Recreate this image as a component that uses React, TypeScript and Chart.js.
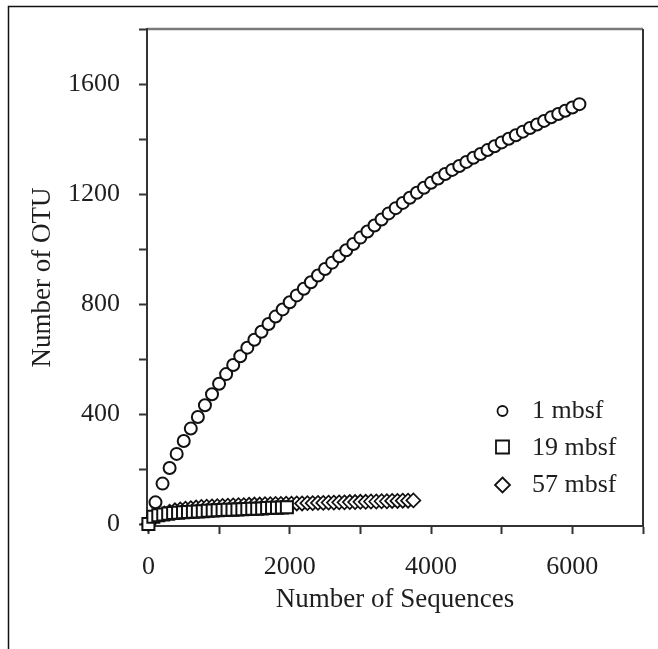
import React, { useEffect, useRef } from 'react';
import { Chart, registerables } from 'chart.js';

Chart.register(...registerables);

const FONT = "'Liberation Serif', 'Times New Roman', serif";
const TEXT = '#1e1e1e';

const seriesLabels = ['1 mbsf', '19 mbsf', '57 mbsf'];

const xTickValues = [0, 1000, 2000, 3000, 4000, 5000, 6000, 7000];
const xTickLabels = ['0', '', '2000', '', '4000', '', '6000', ''];
const yTickValues = [0, 200, 400, 600, 800, 1000, 1200, 1400, 1600, 1800];
const yTickLabels = ['0', '', '400', '', '800', '', '1200', '', '1600', ''];

const seqs1 = [
  100, 200, 300, 400, 500, 600, 700, 800, 900, 1000,
  1100, 1200, 1300, 1400, 1500, 1600, 1700, 1800, 1900, 2000,
  2100, 2200, 2300, 2400, 2500, 2600, 2700, 2800, 2900, 3000,
  3100, 3200, 3300, 3400, 3500, 3600, 3700, 3800, 3900, 4000,
  4100, 4200, 4300, 4400, 4500, 4600, 4700, 4800, 4900, 5000,
  5100, 5200, 5300, 5400, 5500, 5600, 5700, 5800, 5900, 6000, 6100,
];
const otu1 = [
  80, 148, 205, 256, 303, 348, 390, 433, 473, 511,
  546, 579, 611, 642, 671, 700, 728, 755, 781, 807,
  832, 856, 880, 904, 928, 951, 974, 996, 1019, 1042,
  1064, 1086, 1108, 1130, 1149, 1168, 1187, 1205, 1223, 1241,
  1257, 1273, 1288, 1302, 1317, 1332, 1346, 1360, 1374, 1388,
  1401, 1414, 1427, 1440, 1453, 1466, 1479, 1491, 1503, 1515, 1527,
];

const seqs19 = [
  0, 70, 140, 210, 280, 350, 420, 490, 560, 630,
  700, 770, 840, 910, 980, 1050, 1120, 1190, 1260, 1330,
  1400, 1470, 1540, 1610, 1680, 1750, 1820, 1890, 1960,
];
const otu19 = [
  1, 28, 33, 36, 39, 41, 42, 44, 45, 46,
  47, 48, 49, 50, 51, 52, 53, 53, 54, 55,
  56, 57, 57, 58, 59, 60, 60, 61, 62,
];

const seqs57 = [
  0, 75, 150, 225, 300, 375, 450, 525, 600, 675,
  750, 825, 900, 975, 1050, 1125, 1200, 1275, 1350, 1425,
  1500, 1575, 1650, 1725, 1800, 1875, 1950, 2025, 2100, 2175,
  2250, 2325, 2400, 2475, 2550, 2625, 2700, 2775, 2850, 2925,
  3000, 3075, 3150, 3225, 3300, 3375, 3450, 3525, 3600, 3675, 3750,
];
const otu57 = [
  1, 22, 33, 40, 46, 51, 54, 57, 59, 61,
  63, 64, 65, 66, 67, 68, 69, 70, 70, 71,
  72, 72, 73, 73, 74, 74, 75, 75, 76, 76,
  77, 77, 78, 78, 79, 79, 80, 80, 81, 81,
  82, 82, 83, 83, 84, 84, 85, 85, 86, 86, 87,
];

const toPoints = (xs: number[], ys: number[]) => xs.map((x, i) => ({ x, y: ys[i] }));

const decorPlugin = {
  id: 'decor',
  beforeDraw(chart: any) {
    const ctx = chart.ctx;
    ctx.save();
    ctx.fillStyle = '#ffffff';
    ctx.fillRect(0, 0, chart.width, chart.height);
    ctx.strokeStyle = '#111';
    ctx.lineWidth = 1.5;
    ctx.beginPath();
    ctx.moveTo(8.5, chart.height);
    ctx.lineTo(8.5, 6.5);
    ctx.lineTo(chart.width, 6.5);
    ctx.stroke();
    const { left, top, right, bottom } = chart.chartArea;
    ctx.strokeStyle = '#7a7a7a';
    ctx.lineWidth = 2.5;
    ctx.beginPath();
    ctx.moveTo(left, top);
    ctx.lineTo(right, top);
    ctx.stroke();
    ctx.strokeStyle = '#333';
    ctx.lineWidth = 2;
    ctx.beginPath();
    ctx.moveTo(right, top);
    ctx.lineTo(right, bottom + 1);
    ctx.stroke();
    ctx.restore();
  },
  afterDraw(chart: any) {
    const ctx = chart.ctx;
    ctx.save();
    const mx = 502.5;
    const tx = 532;
    const rows = [411, 447, 485];
    const baselines = [418, 455, 492];
    ctx.strokeStyle = '#111';
    ctx.fillStyle = '#fff';
    ctx.lineWidth = 1.8;
    chart.data.datasets.forEach((ds: any, i: number) => {
      const y = rows[i];
      ctx.beginPath();
      if (ds.pointStyle === 'circle') {
        ctx.arc(mx, y, 5, 0, Math.PI * 2);
      } else if (ds.pointStyle === 'rect') {
        ctx.rect(mx - 6.5, y - 6.5, 13, 13);
      } else {
        ctx.moveTo(mx, y - 7.5);
        ctx.lineTo(mx + 7.5, y);
        ctx.lineTo(mx, y + 7.5);
        ctx.lineTo(mx - 7.5, y);
        ctx.closePath();
      }
      ctx.fill();
      ctx.stroke();
    });
    ctx.fillStyle = TEXT;
    ctx.font = `26px ${FONT}`;
    ctx.textBaseline = 'alphabetic';
    ctx.textAlign = 'left';
    chart.data.datasets.forEach((ds: any, i: number) => {
      ctx.fillText(ds.label, tx, baselines[i]);
    });
    ctx.restore();
  },
};

export default function App() {
  const canvasRef = useRef<HTMLCanvasElement | null>(null);

  useEffect(() => {
    const canvas = canvasRef.current;
    if (!canvas) return;
    const common = {
      backgroundColor: '#ffffff',
      borderColor: '#111111',
      borderWidth: 2,
      clip: false as any,
      showLine: false,
    };
    const chart = new Chart(canvas, {
      type: 'scatter',
      data: {
        datasets: [
          { ...common, label: seriesLabels[0], data: toPoints(seqs1, otu1), pointStyle: 'circle', pointRadius: 6 },
          { ...common, label: seriesLabels[1], data: toPoints(seqs19, otu19), pointStyle: 'rect', pointRadius: 8.5 },
          { ...common, label: seriesLabels[2], data: toPoints(seqs57, otu57), pointStyle: 'rectRot', pointRadius: 7, borderWidth: 1.7 },
        ],
      },
      options: {
        animation: false,
        responsive: false,
        devicePixelRatio: 1,
        events: [],
        layout: { padding: { left: 0, top: 29, right: 15, bottom: 0 } },
        plugins: {
          legend: { display: false },
          tooltip: { enabled: false },
        },
        scales: {
          x: {
            type: 'linear',
            position: 'bottom',
            min: -20,
            max: 7000,
            afterBuildTicks: (s: any) => { s.ticks = xTickValues.map((v) => ({ value: v })); },
            ticks: {
              autoSkip: false,
              maxRotation: 0,
              padding: 18,
              color: TEXT,
              font: { family: FONT, size: 26 },
              callback: (_v: any, i: number) => xTickLabels[i] ?? '',
            },
            grid: { drawOnChartArea: false, drawTicks: true, tickLength: 8, tickWidth: 2, tickColor: '#333' },
            border: { display: true, color: '#333', width: 2 },
            title: {
              display: true,
              text: 'Number of Sequences',
              color: TEXT,
              font: { family: FONT, size: 27 },
              padding: { top: 0, bottom: 33 },
            },
            afterFit: (s: any) => { s.height = 123; s.paddingLeft = 0; s.paddingRight = 0; },
          },
          y: {
            type: 'linear',
            position: 'left',
            min: -6,
            max: 1800,
            afterBuildTicks: (s: any) => { s.ticks = yTickValues.map((v) => ({ value: v })); },
            ticks: {
              autoSkip: false,
              padding: 19,
              color: TEXT,
              font: { family: FONT, size: 26 },
              callback: (_v: any, i: number) => yTickLabels[i] ?? '',
            },
            grid: { drawOnChartArea: false, drawTicks: true, tickLength: 8, tickWidth: 2, tickColor: '#333' },
            border: { display: true, color: '#333', width: 2 },
            title: {
              display: true,
              text: 'Number of OTU',
              color: TEXT,
              font: { family: FONT, size: 27 },
              padding: { top: 27, bottom: 0 },
            },
            afterFit: (s: any) => { s.width = 147; s.paddingTop = 0; s.paddingBottom = 0; },
          },
        },
      },
      plugins: [decorPlugin],
    });
    return () => chart.destroy();
  }, []);

  return (
    <div style={{ position: 'absolute', left: 0, top: 0, width: 658, height: 649, background: '#fff' }}>
      <canvas ref={canvasRef} width={658} height={649} style={{ display: 'block' }} />
    </div>
  );
}
